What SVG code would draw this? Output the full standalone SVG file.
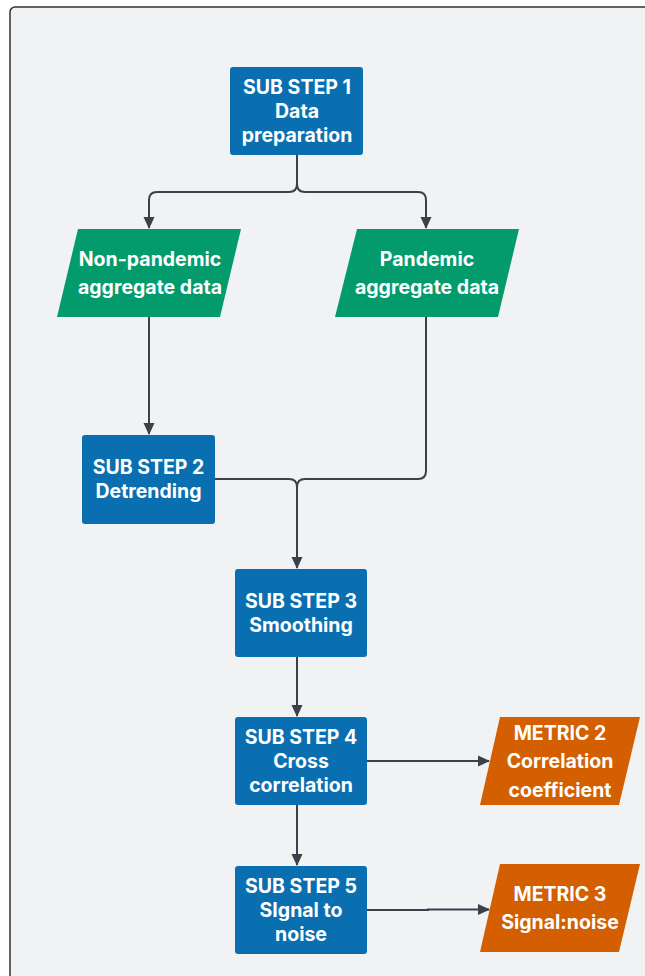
<svg xmlns="http://www.w3.org/2000/svg" width="645" height="976" viewBox="0 0 645 976">
<defs>
<style>
.frame{fill:#f1f2f4;stroke:#2e3035;stroke-width:1.5}
.step{fill:#0a6fb0}
.data{fill:#039b6c}
.metric{fill:#d35f00}
.t{font-family:Inter,"Liberation Sans",sans-serif;font-weight:700;font-size:19.5px;fill:#ffffff;text-anchor:middle}
.c{fill:none;stroke:#3a414b;stroke-width:2}
</style>
<marker id="ah" viewBox="0 0 12 12" refX="11" refY="6" markerWidth="12" markerHeight="12" markerUnits="userSpaceOnUse" orient="auto">
<path d="M0,0.5 L12,6 L0,11.5 Z" fill="#3a414b"/>
</marker>
</defs>
<rect class="frame" x="10" y="7" width="660" height="1000" rx="5"/>
<g id="connectors">
<path class="c" d="M297,155 V184 Q297,192 289,192 H157 Q149,192 149,200 V228" marker-end="url(#ah)"/>
<path class="c" d="M297,155 V184 Q297,192 305,192 H418 Q426,192 426,200 V228" marker-end="url(#ah)"/>
<path class="c" d="M149,317 V434" marker-end="url(#ah)"/>
<path class="c" d="M426,317 V471 Q426,479 418,479 H305 Q297,479 297,487 V568" marker-end="url(#ah)"/>
<path class="c" d="M215,479 H289 Q297,479 297,487"/>
<path class="c" d="M297,657 V716" marker-end="url(#ah)"/>
<path class="c" d="M367,761 H489" marker-end="url(#ah)"/>
<path class="c" d="M297,805 V865" marker-end="url(#ah)"/>
<path class="c" d="M367,910 H428 V909.5 H489" marker-end="url(#ah)"/>
</g>
<g id="step1">
<rect class="step" x="230" y="67" width="133" height="88" rx="3"/>
<text class="t" x="297" y="94">SUB STEP 1</text>
<text class="t" x="297" y="118">Data</text>
<text class="t" x="297" y="142">preparation</text>
</g>
<g id="nonpandemic">
<path class="data" d="M78,229 H241 L220,317 H57 Z"/>
<text class="t" x="150" y="266">Non-pandemic</text>
<text class="t" x="150" y="294">aggregate data</text>
</g>
<g id="pandemic">
<path class="data" d="M357,229 H519 L498,317 H335 Z"/>
<text class="t" x="427" y="266">Pandemic</text>
<text class="t" x="427" y="294">aggregate data</text>
</g>
<g id="step2">
<rect class="step" x="82" y="435" width="133" height="89" rx="3"/>
<text class="t" x="148.5" y="474">SUB STEP 2</text>
<text class="t" x="148.5" y="498">Detrending</text>
</g>
<g id="step3">
<rect class="step" x="235" y="569" width="132" height="88" rx="3"/>
<text class="t" x="301" y="608">SUB STEP 3</text>
<text class="t" x="301" y="632">Smoothing</text>
</g>
<g id="step4">
<rect class="step" x="235" y="717" width="132" height="88" rx="3"/>
<text class="t" x="301" y="744">SUB STEP 4</text>
<text class="t" x="301" y="768">Cross</text>
<text class="t" x="301" y="792">correlation</text>
</g>
<g id="metric2">
<path class="metric" d="M500,717 H640 L619,805 H480 Z"/>
<text class="t" x="560" y="740">METRIC 2</text>
<text class="t" x="560" y="768">Correlation</text>
<text class="t" x="560" y="797">coefficient</text>
</g>
<g id="step5">
<rect class="step" x="235" y="866" width="132" height="88" rx="3"/>
<text class="t" x="301" y="893">SUB STEP 5</text>
<text class="t" x="301" y="917">SIgnal to</text>
<text class="t" x="301" y="941">noise</text>
</g>
<g id="metric3">
<path class="metric" d="M500,864 H640 L619,952 H480 Z"/>
<text class="t" x="560" y="901">METRIC 3</text>
<text class="t" x="560" y="929">Signal:noise</text>
</g>
</svg>
